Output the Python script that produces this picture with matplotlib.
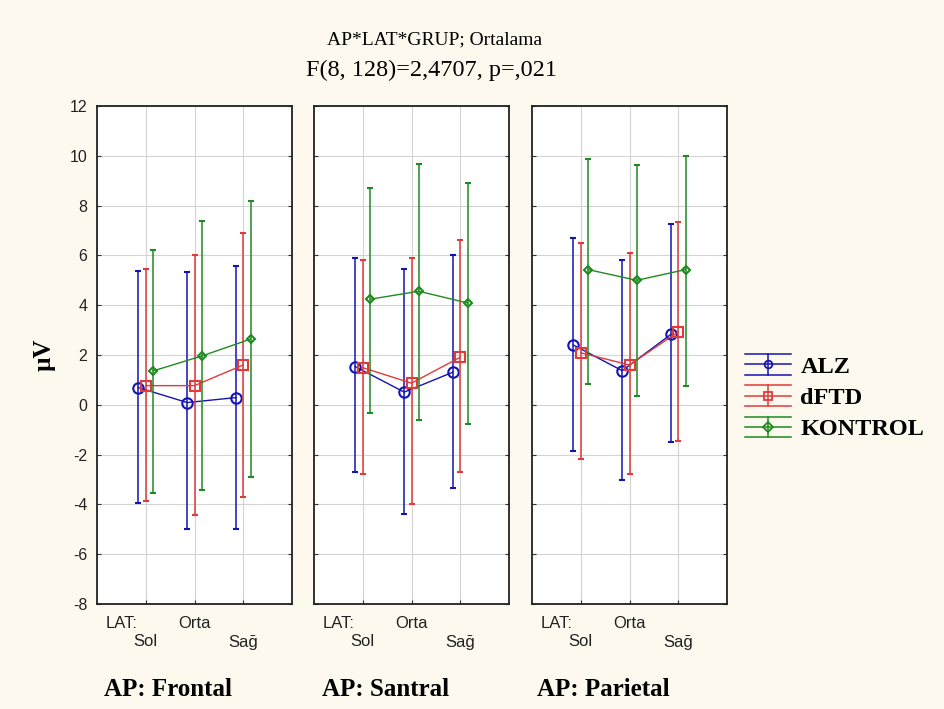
import numpy as np
import matplotlib.pyplot as plt
from matplotlib.legend_handler import HandlerBase
from matplotlib.lines import Line2D

# data
panels = ['AP: Frontal', 'AP: Santral', 'AP: Parietal']
lat_labels = ['Sol', 'Orta', 'Sağ']
groups = ['ALZ', 'dFTD', 'KONTROL']

alz_mean  = [[0.69, 0.09, 0.29], [1.53, 0.51, 1.31], [2.40, 1.37, 2.83]]
alz_lo    = [[-3.93, -5.00, -5.00], [-2.71, -4.40, -3.33], [-1.87, -3.03, -1.51]]
alz_hi    = [[5.37, 5.33, 5.56], [5.89, 5.44, 6.00], [6.71, 5.83, 7.27]]

dftd_mean = [[0.77, 0.77, 1.60], [1.49, 0.87, 1.91], [2.09, 1.60, 2.93]]
dftd_lo   = [[-3.87, -4.43, -3.69], [-2.77, -4.00, -2.71], [-2.17, -2.76, -1.47]]
dftd_hi   = [[5.44, 6.00, 6.89], [5.83, 5.89, 6.60], [6.49, 6.11, 7.33]]

kon_mean  = [[1.36, 1.96, 2.64], [4.24, 4.56, 4.09], [5.43, 5.00, 5.43]]
kon_lo    = [[-3.56, -3.43, -2.89], [-0.31, -0.60, -0.77], [0.84, 0.36, 0.77]]
kon_hi    = [[6.23, 7.40, 8.17], [8.71, 9.67, 8.89], [9.87, 9.63, 10.00]]

series = [(alz_mean, alz_lo, alz_hi), (dftd_mean, dftd_lo, dftd_hi), (kon_mean, kon_lo, kon_hi)]
colors = ['#1414b4', '#e03a3a', '#1f8a1f']
markers = ['o', 's', 'D']
msizes = [7.5, 7.5, 4.5]
offsets = [-0.15, 0.0, 0.15]

bg = '#fdf9ee'
serif = ['Liberation Serif', 'DejaVu Serif']
sans = ['Liberation Sans', 'DejaVu Sans']


class ErrHandler(HandlerBase):
    # three horizontal bars + vertical line + marker, like the original legend
    def create_artists(self, legend, orig, xd, yd, w, h, fontsize, trans):
        c = orig.get_color()
        m = orig.get_marker()
        x0, x1 = -xd, -xd + w
        xm = (x0 + x1) / 2
        ym = -yd + h / 2
        arts = []
        for yy in (ym - h * 0.6, ym, ym + h * 0.6):
            arts.append(Line2D([x0, x1], [yy, yy], color=c, lw=1.1, transform=trans))
        arts.append(Line2D([xm, xm], [ym - h * 0.6, ym + h * 0.6], color=c, lw=1.1, transform=trans))
        arts.append(Line2D([xm], [ym], marker=m, ms=5.5, mfc='none', mec=c, mew=1.3,
                           color=c, transform=trans))
        return arts


fig = plt.figure(figsize=(9.44, 7.09), dpi=100, facecolor=bg)

lefts = [97, 314, 532]
ax_w = 195
bottom_px, top_px = 604, 106
ax_h = bottom_px - top_px
axes = []
for i, name in enumerate(panels):
    ax = fig.add_axes([lefts[i] / 944, 1 - bottom_px / 709, ax_w / 944, ax_h / 709])
    ax.set_facecolor('white')
    x = np.arange(1, 4)
    for k, (m, lo, hi) in enumerate(series):
        mean = np.array(m[i])
        yerr = [mean - np.array(lo[i]), np.array(hi[i]) - mean]
        ax.errorbar(x + offsets[k], mean, yerr=yerr, color=colors[k], lw=1.0,
                    elinewidth=1.1, capsize=2, capthick=1.0,
                    marker=markers[k], ms=msizes[k], mfc='none', mec=colors[k], mew=1.5,
                    label=groups[k], zorder=3 + k)
    ax.set_xlim(0, 4)
    ax.set_ylim(-8, 12)
    ax.set_yticks(np.arange(-8, 13, 2))
    ax.set_xticks(x)
    ax.set_xticklabels([])
    # staggered category labels: Orta on the upper row, Sol / Sağ below
    xt = ax.get_xaxis_transform()
    rows = [-19 / ax_h, -38 / ax_h]
    ax.text(0.5, rows[0], 'LAT:', transform=xt, ha='center', va='center',
            family=sans, fontsize=12, color='#222222')
    for j, lab in enumerate(lat_labels):
        ax.text(x[j], rows[0] if j == 1 else rows[1], lab, transform=xt, ha='center',
                va='center', family=sans, fontsize=12, color='#222222')
    ax.grid(True, color='#d4d4d4', lw=0.8)
    ax.set_axisbelow(True)
    ax.tick_params(axis='both', direction='in', length=3, color='#333333')
    ax.tick_params(axis='y', right=True)
    if i == 0:
        ax.set_yticklabels([str(v) for v in range(-8, 13, 2)], family=sans, fontsize=11.5, color='#222222')
        ax.tick_params(axis='y', pad=7)
    else:
        ax.set_yticklabels([])
    for s in ax.spines.values():
        s.set_color('#222222')
        s.set_linewidth(1.3)
    fig.text((lefts[i] + ax_w / 2 - 26) / 944, 1 - 690 / 709, name, ha='center', va='center',
             family=serif, fontweight='bold', fontsize=18)
    axes.append(ax)

axes[0].set_ylabel('µV', family=serif, fontweight='bold', fontsize=18, labelpad=10)

fig.text(435 / 944, 1 - 40 / 709, 'AP*LAT*GRUP; Ortalama', ha='center', va='center',
         family=serif, fontsize=14)
fig.text(432 / 944, 1 - 70 / 709, 'F(8, 128)=2,4707, p=,021', ha='center', va='center',
         family=serif, fontsize=17.5)

proxies = [Line2D([], [], color=colors[k], marker=markers[k]) for k in range(3)]
fig.legend(proxies, groups, loc='upper left', bbox_to_anchor=(723 / 944, 1 - 334 / 709),
           frameon=False, handler_map={Line2D: ErrHandler()}, handlelength=1.9,
           handletextpad=0.38, labelspacing=0.38,
           prop={'family': serif, 'weight': 'bold', 'size': 17.5})

fig.savefig('out.png', dpi=100, facecolor=bg)
